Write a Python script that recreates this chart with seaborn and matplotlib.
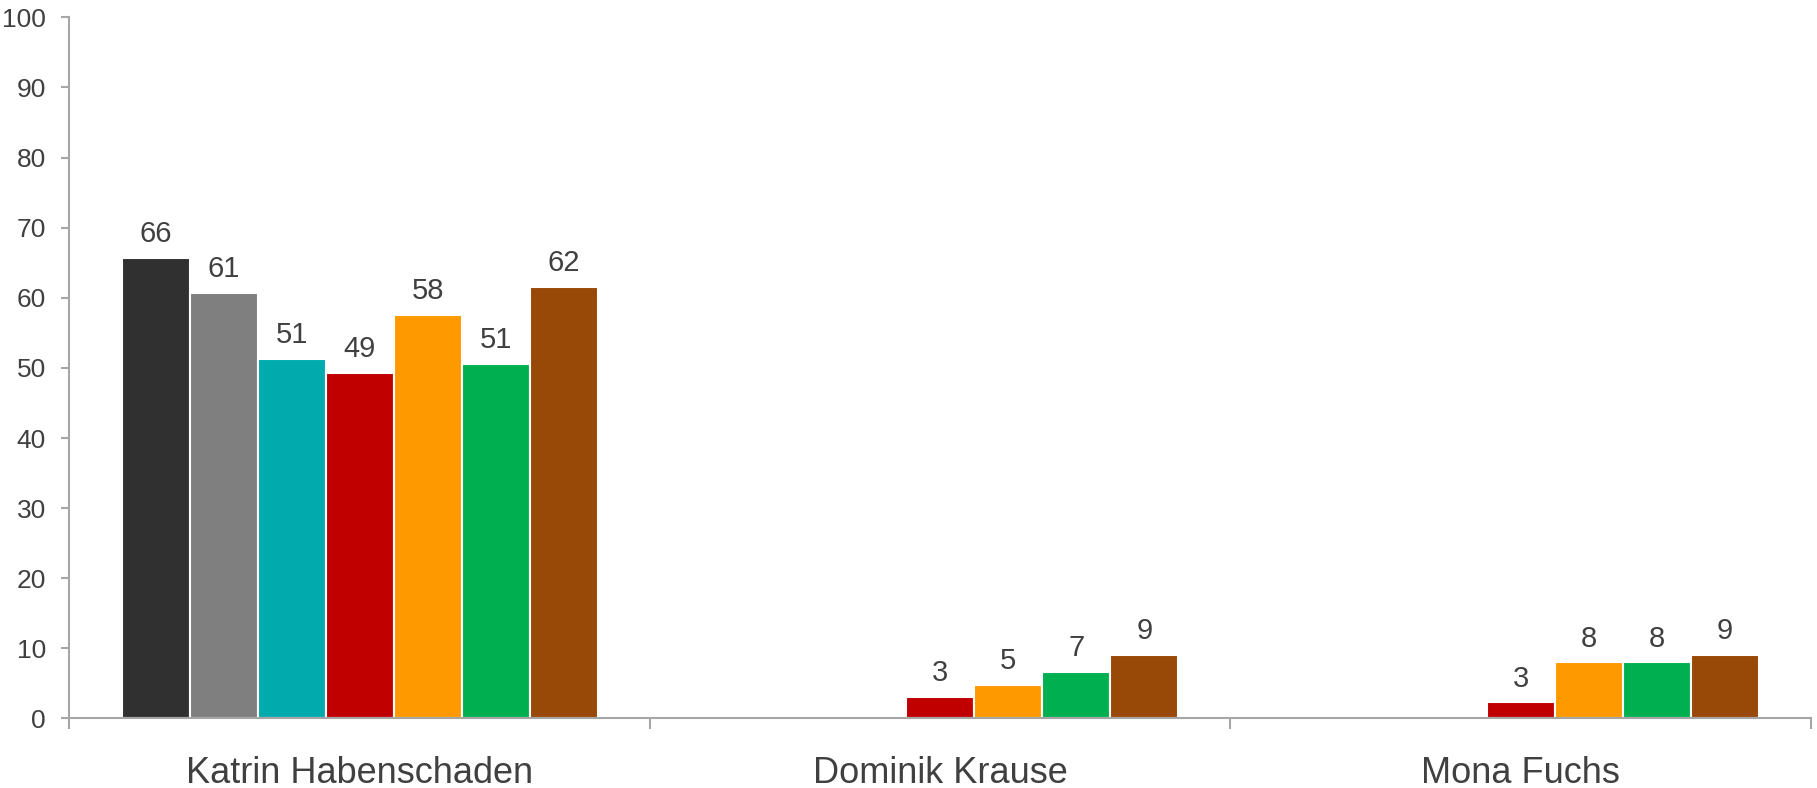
# Grouped bar chart: three candidates, seven series
import numpy as np
import pandas as pd
import seaborn as sns
import matplotlib.pyplot as plt
from matplotlib.ticker import FixedLocator

# ---- data ----
candidates = ['Katrin Habenschaden', 'Dominik Krause', 'Mona Fuchs']
series = ['Reihe 1', 'Reihe 2', 'Reihe 3', 'Reihe 4', 'Reihe 5', 'Reihe 6', 'Reihe 7']
colors = ['#303030', '#7F7F7F', '#00AAAD', '#C00000', '#FF9900', '#00B050', '#984807']

values_habenschaden = [65.7, 60.7, 51.3, 49.3, 57.6, 50.6, 61.6]
values_krause = [np.nan, np.nan, np.nan, 3.1, 4.8, 6.7, 9.1]
values_fuchs = [np.nan, np.nan, np.nan, 2.3, 8.0, 8.0, 9.1]

labels_habenschaden = ['66', '61', '51', '49', '58', '51', '62']
labels_krause = ['', '', '', '3', '5', '7', '9']
labels_fuchs = ['', '', '', '3', '8', '8', '9']

yticks = [0, 10, 20, 30, 40, 50, 60, 70, 80, 90, 100]

# ---- build long table ----
rows = []
for cand, vals in zip(candidates, [values_habenschaden, values_krause, values_fuchs]):
    for s, v in zip(series, vals):
        rows.append({'candidate': cand, 'series': s, 'value': v})
df = pd.DataFrame(rows)
label_map = dict(zip(candidates, [labels_habenschaden, labels_krause, labels_fuchs]))

sns.set_style('white')
plt.rcParams['font.family'] = ['Liberation Sans', 'DejaVu Sans']

text_color = '#404040'
axis_color = '#A6A6A6'

fig, ax = plt.subplots(figsize=(18.17, 7.88), dpi=100)
fig.subplots_adjust(left=0.0382, right=0.9967, top=0.978, bottom=0.0882)

sns.barplot(data=df, x='candidate', y='value', hue='series', order=candidates,
            hue_order=series, palette=colors, saturation=1, width=0.82,
            edgecolor='white', linewidth=1.5, errorbar=None, legend=False, ax=ax)

# value labels
for i, cont in enumerate(ax.containers):
    labs = []
    for cand in candidates:
        v = df[(df.candidate == cand) & (df.series == series[i])]['value'].iloc[0]
        if not np.isnan(v):
            labs.append(label_map[cand][i])
    if len(labs) != len(cont):
        labs = [label_map[c][i] for c in candidates][:len(cont)]
    ax.bar_label(cont, labels=labs, padding=7, fontsize=21, color=text_color)

ax.set_ylim(0, 100)
ax.set_xlim(-0.5, 2.5)
ax.set_yticks(yticks)
ax.set_xlabel('')
ax.set_ylabel('')

for side in ['top', 'right']:
    ax.spines[side].set_visible(False)
for side in ['left', 'bottom']:
    ax.spines[side].set_color(axis_color)
    ax.spines[side].set_linewidth(1.5)

ax.tick_params(axis='y', length=6, width=1.5, color=axis_color, pad=11,
               labelsize=19, labelcolor=text_color, left=True)
ax.tick_params(axis='x', which='major', length=0, pad=27, labelsize=26, labelcolor=text_color)
ax.xaxis.set_minor_locator(FixedLocator([-0.5, 0.5, 1.5, 2.5]))
ax.tick_params(axis='x', which='minor', length=8, width=1.5, color=axis_color, bottom=True)

plt.savefig('out.png', dpi=100)
